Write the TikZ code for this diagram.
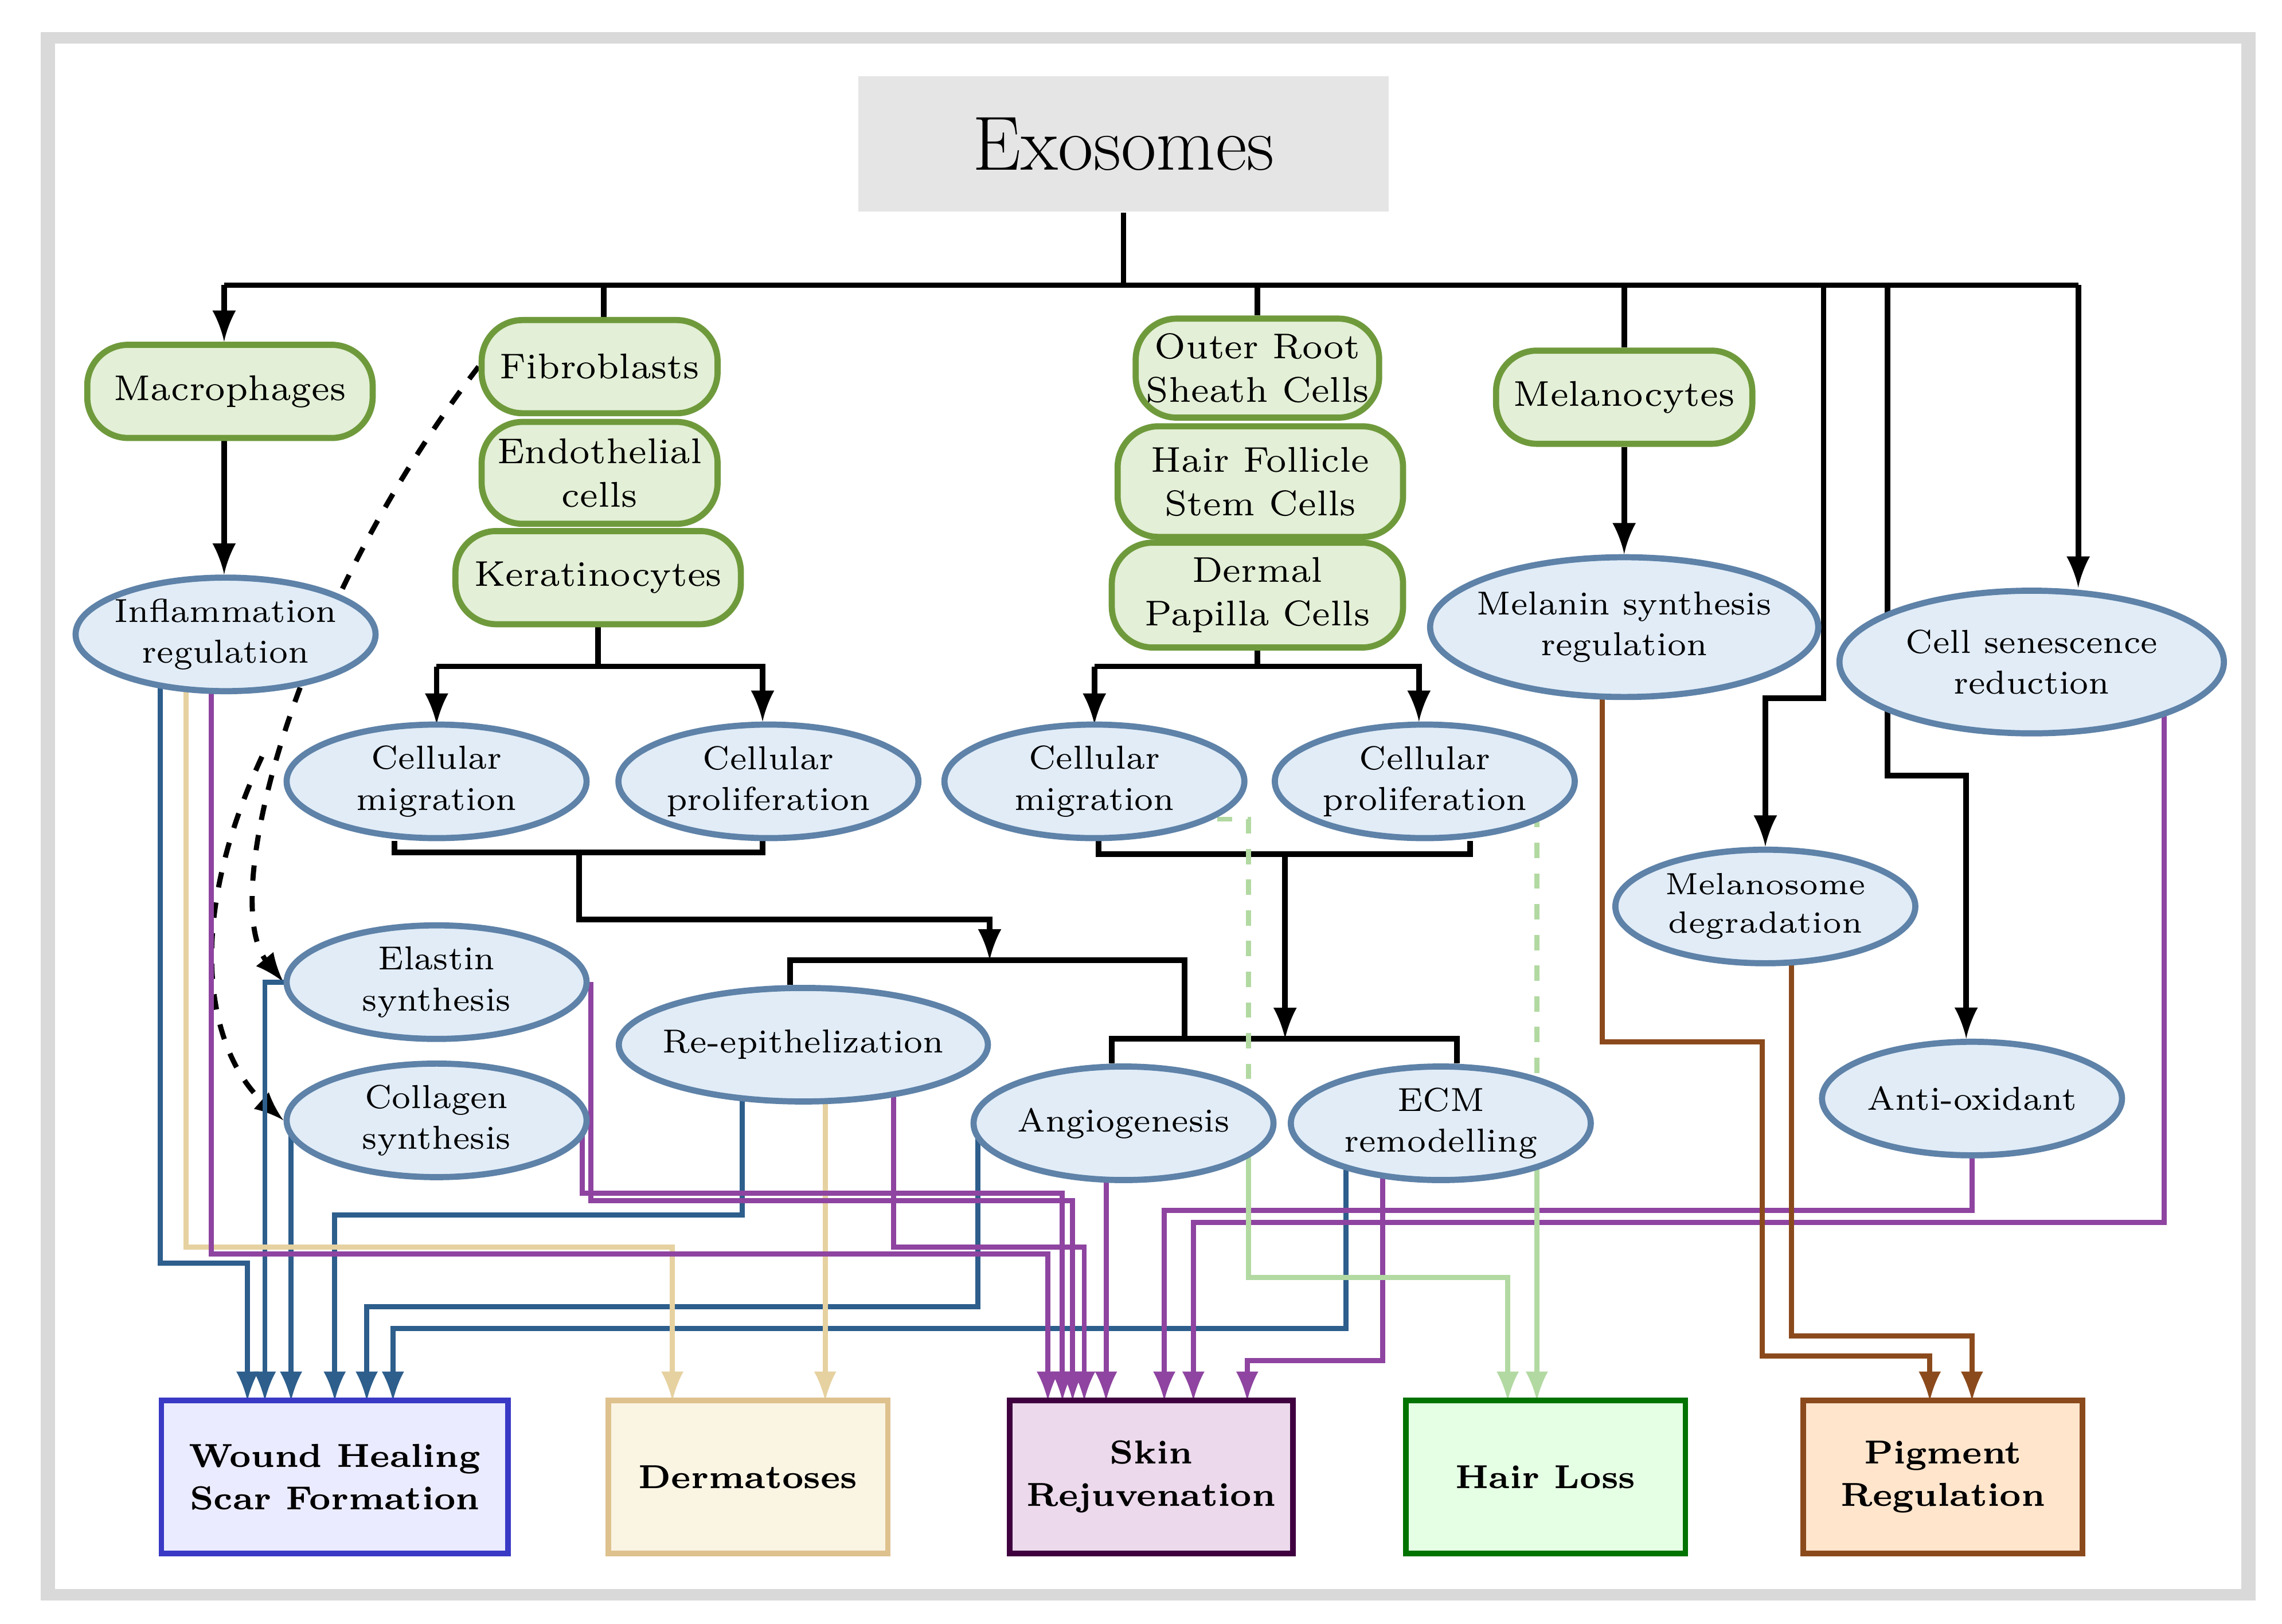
\documentclass[tikz,border=0pt]{standalone}
\usepackage{tikz}
\usetikzlibrary{arrows,shapes,positioning,calc}
\pgfdeclarelayer{background}
\pgfsetlayers{background,main}
\definecolor{cellgreen}{HTML}{E3EFD6}
\definecolor{cellline}{HTML}{6F9A3C}
\definecolor{ellfill}{HTML}{E1ECF7}
\definecolor{ellline}{HTML}{5E82A8}
\definecolor{cblue}{HTML}{2D5E8C}
\definecolor{cpurple}{HTML}{8E44A0}
\definecolor{cbeige}{HTML}{E6D1A0}
\definecolor{cgreen}{HTML}{B2D9A2}
\definecolor{cbrown}{HTML}{8B4A1C}
\tikzset{
	cell/.style={draw=cellline, fill=cellgreen, line width=1.2pt, rounded corners=8pt,
		align=center, font=\fontsize{7}{8.5}\selectfont, inner sep=2pt},
	effect/.style={ellipse, draw=ellline, fill=ellfill, line width=1.2pt,
		align=center, font=\fontsize{6.5}{8}\selectfont, inner sep=-2pt},
	outcome/.style={draw, line width=1.1pt, align=center,
		font=\bfseries\fontsize{6.5}{8.3}\selectfont, minimum width=1.92cm, minimum height=1.05cm},
	link/.style={line width=1.1pt, -latex},
	tie/.style={line width=1.1pt},
	route/.style={line width=1pt, -latex},
}
\begin{document}
\begin{tikzpicture}[x=0.01cm, y=-0.01cm]
	\useasboundingbox (0,0) rectangle (1568,1116);
	% top
	\node[fill=gray!20, minimum width=3.64cm, minimum height=0.93cm, font=\fontsize{15}{18}\selectfont] (exo) at (772,99) {Exosomes};
	% cells
	\node[cell, minimum width=1.96cm, minimum height=0.64cm] (macro) at (158,269) {Macrophages};
	\node[cell, minimum width=1.62cm, minimum height=0.64cm] (fibro) at (412,252) {Fibroblasts};
	\node[cell, minimum width=1.62cm, minimum height=0.70cm] (endo) at (412,325) {Endothelial\\cells};
	\node[cell, minimum width=1.96cm, minimum height=0.64cm] (kera) at (411,397) {Keratinocytes};
	\node[cell, minimum width=1.60cm, minimum height=0.68cm] (ors) at (864,253) {Outer Root\\Sheath Cells};
	\node[cell, minimum width=1.96cm, minimum height=0.76cm] (hfsc) at (866,331) {Hair Follicle\\Stem Cells};
	\node[cell, minimum width=2.00cm, minimum height=0.72cm] (dpc) at (864,409) {Dermal\\Papilla Cells};
	\node[cell, minimum width=1.76cm, minimum height=0.64cm] (melano) at (1116,273) {Melanocytes};
	% effects
	\node[effect, minimum width=2.06cm, minimum height=0.78cm] (infl) at (155,436) {Inflammation\\regulation};
	\node[effect, minimum width=2.06cm, minimum height=0.78cm] (migl) at (300,537) {Cellular\\migration};
	\node[effect, minimum width=2.06cm, minimum height=0.78cm] (prol) at (528,537) {Cellular\\proliferation};
	\node[effect, minimum width=2.06cm, minimum height=0.78cm] (migr) at (752,537) {Cellular\\migration};
	\node[effect, minimum width=2.06cm, minimum height=0.78cm] (pror) at (979,537) {Cellular\\proliferation};
	\node[effect, minimum width=2.56cm, minimum height=0.96cm] (melsyn) at (1116,431) {Melanin synthesis\\regulation};
	\node[effect, minimum width=2.64cm, minimum height=0.98cm] (senes) at (1396,455) {Cell senescence\\reduction};
	\node[effect, minimum width=2.06cm, minimum height=0.78cm, font=\fontsize{6}{7.5}\selectfont] (msdeg) at (1213,623) {Melanosome\\degradation};
	\node[effect, minimum width=2.06cm, minimum height=0.78cm] (elast) at (300,675) {Elastin\\synthesis};
	\node[effect, minimum width=2.06cm, minimum height=0.78cm] (coll) at (300,770) {Collagen\\synthesis};
	\node[effect, minimum width=2.06cm, minimum height=0.78cm] (reep) at (552,718) {Re-epithelization};
	\node[effect, minimum width=2.06cm, minimum height=0.78cm] (angio) at (772,772) {Angiogenesis};
	\node[effect, minimum width=2.06cm, minimum height=0.78cm] (ecm) at (990,772) {ECM\\remodelling};
	\node[effect, minimum width=2.06cm, minimum height=0.78cm] (antiox) at (1355,755) {Anti-oxidant};
	% outcomes
	\node[outcome, draw=blue!55!gray, fill=blue!8, minimum width=2.38cm] (wound) at (230,1015) {Wound Healing\\Scar Formation};
	\node[outcome, draw=cbeige!80!brown, fill=yellow!10!cbeige!25] (derm) at (514,1015) {Dermatoses};
	\node[outcome, draw=violet!50!black, fill=violet!15] (skin) at (791,1015) {Skin\\Rejuvenation};
	\node[outcome, draw=green!45!black, fill=green!10] (hair) at (1062,1015) {Hair Loss};
	\node[outcome, draw=cbrown, fill=orange!20] (pigm) at (1335,1015) {Pigment\\Regulation};
	\begin{pgfonlayer}{background}
		\fill[gray!30] (28,22) rectangle (1550,1100);
		\fill[white] (38,30) rectangle (1540,1092);
		% tree from exosomes
		\draw[tie] (exo) -- (772,196);
		\draw[tie] (154,196) -- (1428,196);
		\draw[link] (154,196) -- (macro.north -| 154,0);
		\draw[tie] (415,196) -- (fibro.north -| 415,0);
		\draw[tie] (864,196) -- (ors);
		\draw[tie] (1116,196) -- (melano);
		\draw[link] (1253,196) |- (1213,480) -- (msdeg.north);
		\draw[link] (1297,196) |- (1351,533) -- (antiox.north -| 1351,0);
		\draw[link] (1428,196) -- (senes.north -| 1428,0);
		\draw[link] (macro.south -| 154,0) -- (infl.north -| 154,0);
		\draw[link] (melano) -- (melsyn.north);
		% keratinocyte branch
		\draw[tie] (kera) -- (411,458);
		\draw[link] (300,458) -- (524,458) -- (524,496);
		\draw[link] (300,458) -- (300,498);
		\draw[tie] (dpc) -- (864,458);
		\draw[link] (752,458) -- (975,458) -- (975,496);
		\draw[link] (752,458) -- (752,498);
		\draw[tie] (migl.south -| 271,0) -- (271,586) -- (524,586) -- (prol.south -| 524,0);
		\draw[link] (398,586) |- (680,632) -- (680,660);
		\draw[tie] (reep.north -| 543,0) |- (814,660) -- (814,714);
		\draw[tie] (migr.south -| 755,0) -- (755,587) -- (1010,587) -- (pror.south -| 1010,0);
		\draw[link] (883,587) -- (883,714);
		\draw[tie] (angio.north -| 764,0) |- (1001,714) -- (ecm.north -| 1001,0);
		% dashed fibroblast links
		\draw[line width=1pt, dashed, -latex] (fibro.west) .. controls (200,420) and (150,620) .. (elast.west);
		\draw[line width=1pt, dashed, -latex] (180,520) .. controls (120,650) and (150,730) .. (coll.west);
		% wound healing
		\draw[route, cblue] (infl -| 110,0) |- (170,868) -- (170,963);
		\draw[route, cblue] (elast.west) -| (182,963);
		\draw[route, cblue] (coll -| 200,0) -- (200,963);
		\draw[route, cblue] (reep -| 510,0) |- (230,835) -- (230,963);
		\draw[route, cblue] (angio -| 672,0) |- (252,898) -- (252,963);
		\draw[route, cblue] (ecm -| 925,0) |- (270,913) -- (270,963);
		% dermatoses
		\draw[route, cbeige] (infl -| 128,0) |- (462,857) -- (462,963);
		\draw[route, cbeige] (reep -| 567,0) -- (567,963);
		% skin rejuvenation
		\draw[route, cpurple] (infl -| 145,0) |- (720,862) -- (720,963);
		\draw[route, cpurple] (elast -| 406,0) |- (737,825) -- (737,963);
		\draw[route, cpurple] (coll -| 400,0) |- (730,820) -- (730,963);
		\draw[route, cpurple] (reep -| 614,0) |- (745,857) -- (745,963);
		\draw[route, cpurple] (angio -| 760,0) -- (760,963);
		\draw[route, cpurple] (ecm -| 950,0) |- (857,935) -- (857,963);
		\draw[route, cpurple] (antiox) |- (800,832) -- (800,963);
		\draw[route, cpurple] (senes -| 1487,0) |- (820,840) -- (820,963);
		% hair loss
		\draw[route, cgreen, dashed] (migr -| 820,0) -- (820,563) -| (858,790);
		\draw[route, cgreen] (858,790) |- (1036,878) -- (1036,963);
		\draw[route, cgreen, dashed] (pror -| 1056,0) -- (1056,790);
		\draw[route, cgreen] (1056,790) -- (1056,963);
		% pigment
		\draw[route, cbrown] (melsyn -| 1101,0) |- (1211,716) |- (1326,932) -- (1326,963);
		\draw[route, cbrown] (msdeg -| 1231,0) |- (1355,918) -- (1355,963);
	\end{pgfonlayer}
\end{tikzpicture}
\end{document}
